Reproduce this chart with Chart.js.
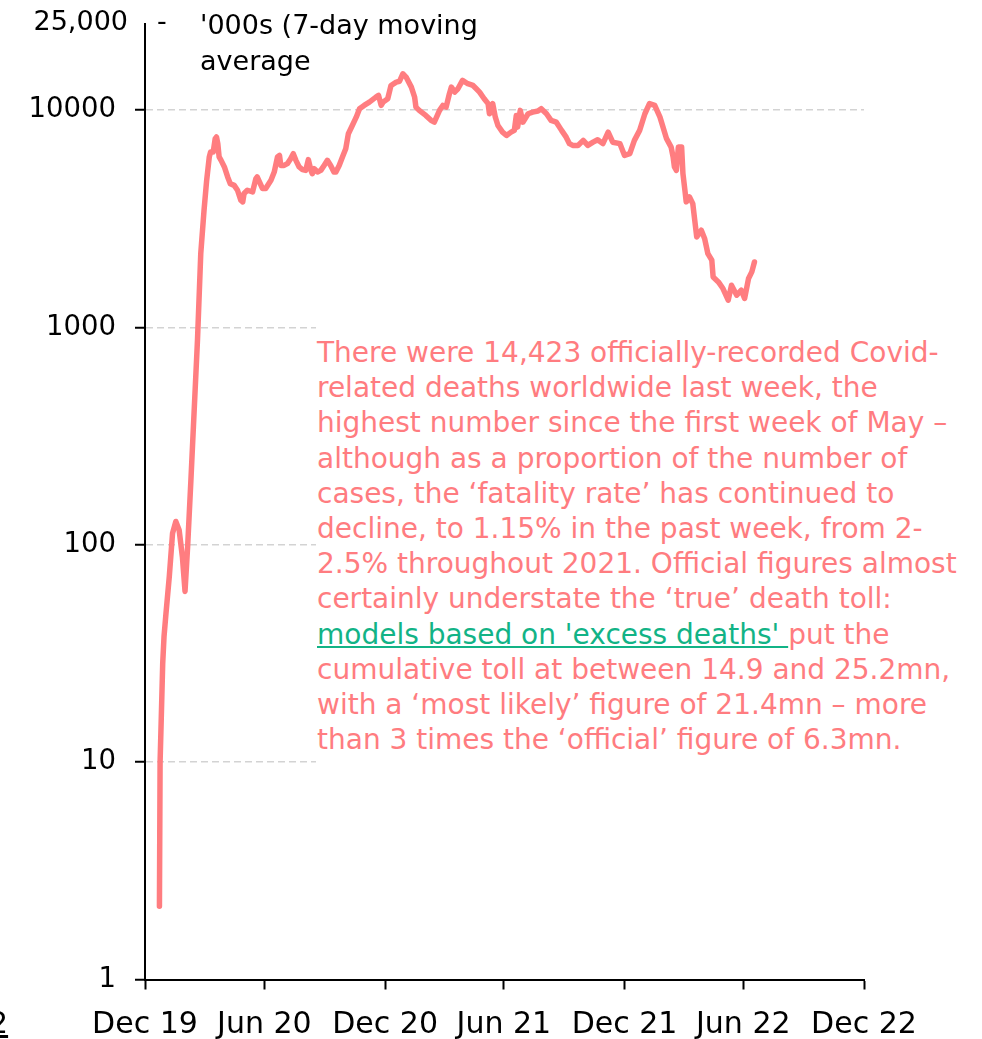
<!DOCTYPE html>
<html>
<head>
<meta charset="utf-8">
<script src="https://cdn.jsdelivr.net/npm/chart.js@4/dist/chart.umd.min.js"></script>
<style>
  html, body { margin: 0; padding: 0; background: #fff; }
  #wrap { position: relative; width: 982px; height: 1039px; overflow: hidden; }
  #c { position: absolute; left: 0; top: 0; }
  .txt { position: absolute; font-family: "DejaVu Sans", sans-serif; color: #000; white-space: pre; }
  #note { position: absolute; left: 316px; top: 326px; width: 650px; height: 448px; background: #fff;
          font-family: "DejaVu Sans", sans-serif; font-size: 28px; line-height: 35.2px; color: #FF7C80;
          white-space: pre; padding-top: 9px; padding-left: 1px; box-sizing: border-box; }
  #note .link { color: #12B386; text-decoration: underline; }
</style>
</head>
<body>
<div id="wrap">
  <canvas id="c" width="982" height="1039"></canvas>
  <div class="txt" style="left:0;top:3px;width:128px;text-align:right;font-size:27px;line-height:35px;">25,000</div>
  <div class="txt" style="left:157px;top:3px;font-size:27px;line-height:35px;">-</div>
  <div class="txt" style="left:200px;top:7px;font-size:27px;line-height:36px;">'000s (7-day moving
average</div>
  <div class="txt" style="left:-11px;top:1008px;font-size:30px;line-height:30px;text-decoration:underline;">2</div>
  <div id="note">There were 14,423 officially-recorded Covid-
related deaths worldwide last week, the
highest number since the first week of May –
although as a proportion of the number of
cases, the ‘fatality rate’ has continued to
decline, to 1.15% in the past week, from 2-
2.5% throughout 2021. Official figures almost
certainly understate the ‘true’ death toll:
<span class="link">models based on 'excess deaths' </span>put the
cumulative toll at between 14.9 and 25.2mn,
with a ‘most likely’ figure of 21.4mn – more
than 3 times the ‘official’ figure of 6.3mn.</div>
</div>
<script>
// Days since 31 Dec 2019
const dayOffsets = [
  22,23,25,27,29,32,37,42,47,52,57,61,65,70,75,80,85,90,94,98,
  100,104,107,109,111,113,116,121,126,130,136,141,146,149,151,156,164,169,171,179,
  184,192,197,202,205,207,212,217,222,226,230,235,240,245,249,253,255,258,263,268,
  273,278,283,288,291,296,301,306,310,316,322,327,334,342,352,356,360,363,370,375,
  383,388,393,398,406,411,413,418,428,436,441,449,454,459,464,467,472,477,484,492,
  500,505,510,517,523,525,528,530,534,538,545,551,558,563,566,568,572,576,584,591,
  599,604,612,619,627,635,642,647,652,660,668,675,683,690,698,706,713,724,731,739,
  746,754,762,769,777,785,795,802,805,807,810,813,818,820,823,825,830,835,838,841,
  848,853,858,864,866,874,881,889,894,902,909,914,920,925,929
];
// Daily deaths, 7-day moving average
const dailyDeaths = [
  2.17,10,16.8,28.5,37.8,48.4,71.3,113,128,117,88,61,98,199,417,873,2186,3456,4746,6084,
  6410,6410,7380,7510,7000,6084,5866,5470,4920,4584,4500,4274,3848,3779,4130,4274,4200,4833,4920,4355,
  4355,4746,5180,6084,6184,5560,5560,5664,5970,6295,5866,5470,5320,5276,5910,5276,5094,5370,5190,5276,
  5560,5866,5560,5190,5190,5560,6084,6640,7780,8490,9270,10140,10500,10870,11460,11670,10500,10870,11270,12970,
  13440,13560,14680,14170,12740,11460,10310,9960,9440,8960,8790,9960,10500,10310,11880,12740,12090,12530,13680,13210,
  12970,12530,12090,11270,10700,9610,10500,10700,9270,8490,7910,7640,7910,8060,9440,8340,9960,8790,9610,9780,
  9890,10140,9610,8960,8790,8060,7500,7000,6870,6870,7250,6870,7110,7300,7000,7910,7110,7000,6180,6300,
  7250,8060,9610,10700,10500,9270,7380,6750,6084,5470,5276,6750,6750,5094,4274,3779,3980,3710,3110,2607,
  2800,2565,2186,2037,1707,1619,1509,1334,1563,1406,1482,1358,1679,1800,2000
];
const xTickDays = [0, 182, 366, 547, 731, 912, 1096];
const xTickLabels = ['Dec 19', 'Jun 20', 'Dec 20', 'Jun 21', 'Dec 21', 'Jun 22', 'Dec 22'];
const yTickValues = [1, 10, 100, 1000, 10000];
const yTickLabels = ['1', '10', '100', '1000', '10000'];
const yMax = 25000;

const points = dayOffsets.map((d, i) => ({ x: d, y: dailyDeaths[i] }));

new Chart(document.getElementById('c'), {
  type: 'line',
  data: {
    datasets: [{
      data: points,
      borderColor: 'rgb(255,125,128)',
      borderWidth: 5.5,
      pointRadius: 0,
      tension: 0,
      fill: false,
      borderCapStyle: 'round',
      borderJoinStyle: 'round'
    }]
  },
  options: {
    responsive: false,
    animation: false,
    devicePixelRatio: 1,
    layout: { padding: { left: 0, right: 118, top: 23.5, bottom: 0 } },
    plugins: { legend: { display: false }, tooltip: { enabled: false } },
    scales: {
      x: {
        type: 'linear',
        min: xTickDays[0],
        max: xTickDays[xTickDays.length - 1],
        afterBuildTicks: s => { s.ticks = xTickDays.map(v => ({ value: v })); },
        afterFit: s => { s.height = 59.5; s.paddingLeft = 0; s.paddingRight = 0; },
        ticks: {
          autoSkip: false, maxRotation: 0, minRotation: 0, padding: 18,
          color: '#000', font: { family: 'DejaVu Sans', size: 30 },
          callback: (v, i) => xTickLabels[i]
        },
        grid: { drawOnChartArea: false, drawTicks: true, tickLength: 10, tickColor: '#000', tickWidth: 2 },
        border: { color: '#000', width: 2 }
      },
      y: {
        type: 'logarithmic',
        min: yTickValues[0],
        max: yMax,
        afterBuildTicks: s => { s.ticks = yTickValues.map(v => ({ value: v })); },
        afterFit: s => { s.width = 145; s.paddingTop = 0; s.paddingBottom = 0; },
        ticks: {
          autoSkip: false, padding: 19,
          color: '#000', font: { family: 'DejaVu Sans', size: 27.5 },
          callback: (v, i) => yTickLabels[i]
        },
        grid: {
          color: c => (c.tick && c.tick.value > 1) ? '#d3d3d3' : 'rgba(0,0,0,0)',
          lineWidth: 1.5, drawTicks: true, tickLength: 10, tickColor: '#000', tickWidth: 2
        },
        border: { color: '#000', width: 2, dash: [7, 4] }
      }
    }
  }
});
</script>
</body>
</html>
